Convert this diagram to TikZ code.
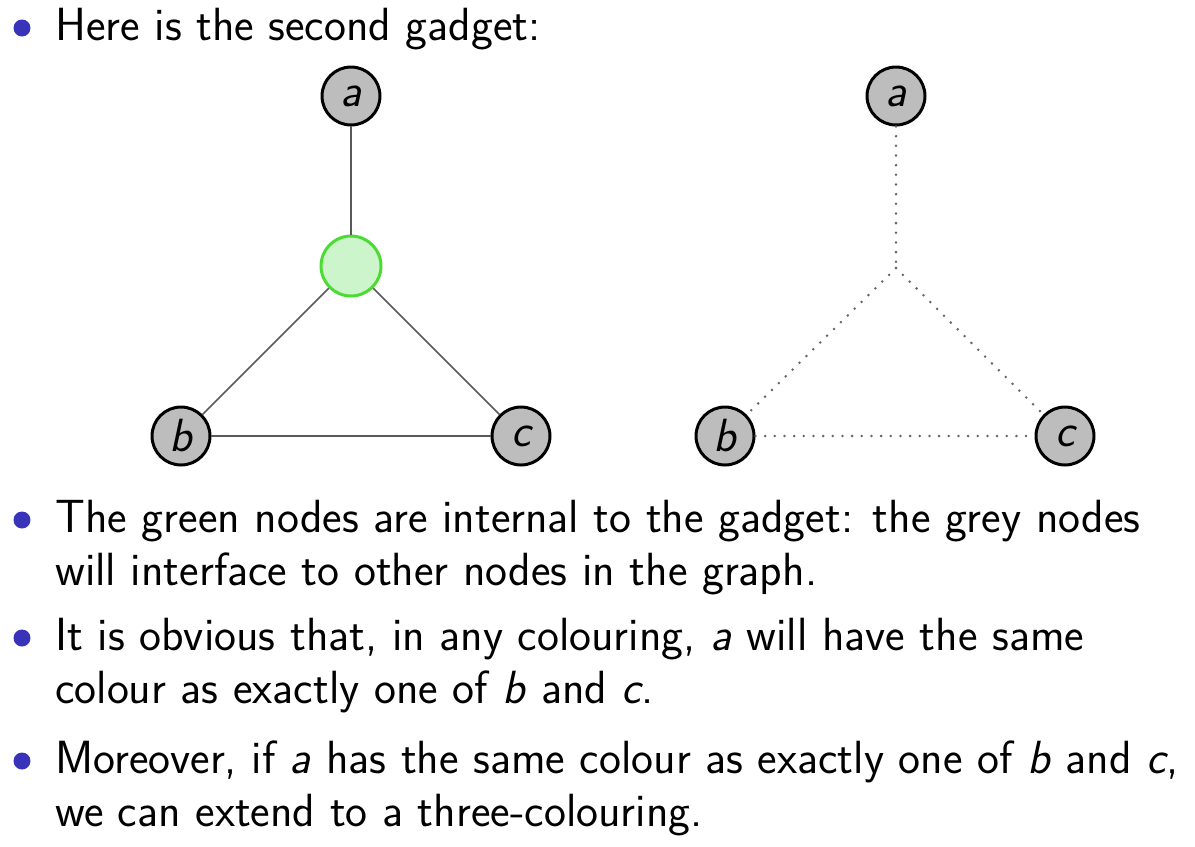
\documentclass[tikz,border=0pt]{standalone}
\usepackage{fontspec}
\usetikzlibrary{positioning}
\usepackage{xcolor}
\definecolor{structblue}{rgb}{0.22,0.2,0.72}
\definecolor{greynode}{gray}{0.74}
\definecolor{greenline}{rgb}{0.3,0.86,0.2}
\definecolor{greenfill}{rgb}{0.8,0.96,0.8}
\newcommand{\slidefont}{\sffamily\fontsize{26.5}{32}\selectfont}
\newcommand{\itembullet}[1] {
    \fill[structblue] (22, {#1-12}) circle (0.17cm);
}
\tikzset{
    outer/.style={
        circle,
        minimum size=1.16cm,
        inner sep=0mm,
        line width=1.7pt,
        draw=black,
        fill=greynode,
        font=\slidefont\itshape
    },
    inner/.style={
        circle,
        minimum size=1.2cm,
        inner sep=0mm,
        line width=1.7pt,
        draw=greenline,
        fill=greenfill
    },
    edge/.style={black!65, line width=0.9pt},
    ghost/.style={black!60, line width=1.6pt, line cap=round, dash pattern=on 0pt off 5.5pt},
    line/.style={anchor=base west, inner sep=0mm, font=\slidefont}
}

\begin{document}
\begin{tikzpicture}[x=0.02cm, y=-0.02cm]
    \useasboundingbox (0,0) rectangle (1195,846);
    % left gadget
    \node[outer] (la) at (351, 96) {a};
    \node[inner] (lg) at (351,266) {};
    \node[outer] (lb) at (181,436) {b};
    \node[outer] (lc) at (521,436) {c};
    \draw[edge] (la) -- (lg);
    \draw[edge] (lg) -- (lb);
    \draw[edge] (lg) -- (lc);
    \draw[edge] (lb) -- (lc);
    % right gadget, internal node removed
    \node[outer] (ra) at (896, 96) {a};
    \coordinate (rg) at (896,268);
    \node[outer] (rb) at (725,436) {b};
    \node[outer] (rc) at (1065,436) {c};
    \draw[ghost] (ra) -- (rg);
    \draw[ghost] (rg) -- (rb);
    \draw[ghost] (rg) -- (rc);
    \draw[ghost] (rb) -- (rc);
    % bullets
    \itembullet{40}
    \itembullet{532}
    \itembullet{650}
    \itembullet{773}
    \node[line] (t1) at (55,40) {Here is the second gadget:};
    \node[line] (t2) at (55,532) {The green nodes are internal to the gadget: the grey nodes};
    \node[line] (t2b) at (55,585) {will interface to other nodes in the graph.};
    \node[line] (t3) at (55,650) {It is obvious that, in any colouring, \textit{a} will have the same};
    \node[line] (t3b) at (55,703) {colour as exactly one of \textit{b} and \textit{c}.};
    \node[line] (t4) at (55,773) {Moreover, if \textit{a} has the same colour as exactly one of \textit{b} and \textit{c},};
    \node[line] (t4b) at (55,826) {we can extend to a three-colouring.};
\end{tikzpicture}
\end{document}
